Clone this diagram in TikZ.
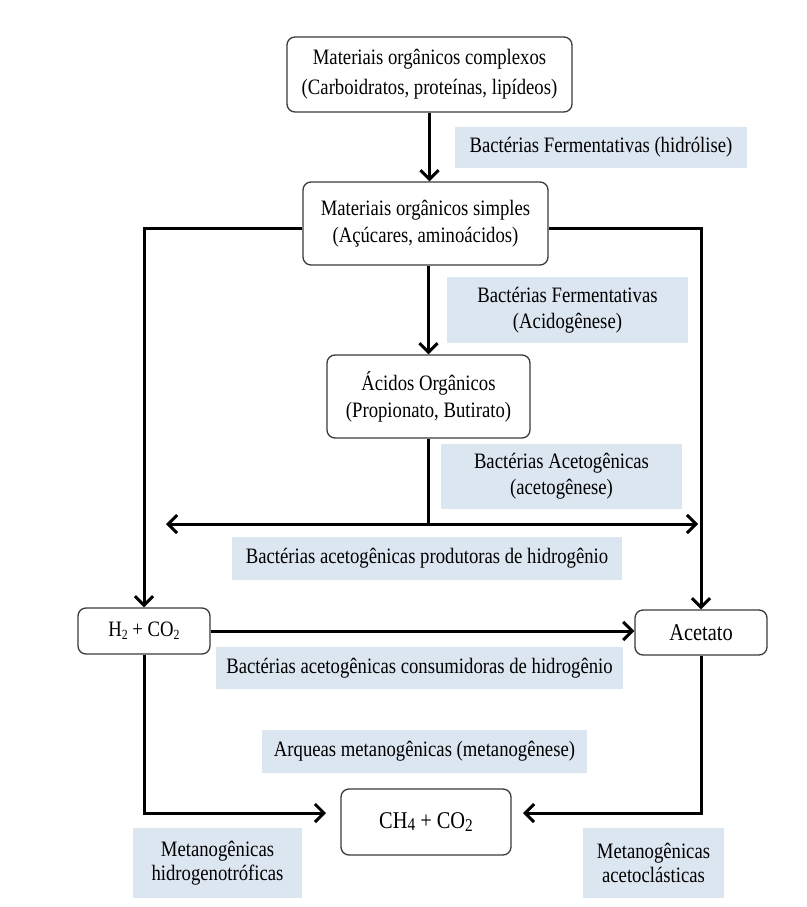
\documentclass[tikz,border=0pt]{standalone}
\usepackage{fontspec}
\setmainfont{Liberation Serif}[FakeStretch=0.85]
\usetikzlibrary{arrows.meta,calc}
\definecolor{labc}{HTML}{DCE6F1}
\definecolor{bord}{HTML}{3A3A3A}
\begin{document}
\begin{tikzpicture}[x=1pt,y=-1pt,
  box/.style={draw=bord,line width=1.3pt,rounded corners=8pt,fill=white,align=center,inner sep=0pt,font=\fontsize{22}{27}\selectfont},
  lab/.style={fill=labc,align=center,inner sep=0pt,font=\fontsize{22}{26}\selectfont},
  conn/.style={line width=3pt,-{Straight Barb[length=9pt,width=18pt]}},
  thinline/.style={line width=2.2pt}]
\useasboundingbox (0,0) rectangle (806,907);
% boxes
\node[box,minimum width=285pt,minimum height=75pt,font=\fontsize{22}{30}\selectfont] (b1) at (429.5,74.5) {Materiais orgânicos complexos\\(Carboidratos, proteínas, lipídeos)};
\node[box,minimum width=245pt,minimum height=83pt] (b2) at (425.5,223.5) {Materiais orgânicos simples\\(Açúcares, aminoácidos)};
\node[box,minimum width=203pt,minimum height=83pt] (b3) at (428.5,396.5) {Ácidos Orgânicos\\(Propionato, Butirato)};
\node[box,minimum width=132pt,minimum height=46pt] (h2) at (144,631) {H\raisebox{-3pt}{\fontsize{14}{14}\selectfont 2} + CO\raisebox{-3pt}{\fontsize{14}{14}\selectfont 2}};
\node[box,minimum width=132pt,minimum height=45pt,font=\fontsize{24}{27}\selectfont] (ac) at (701,632.5) {Acetato};
\node[box,minimum width=170pt,minimum height=66pt,font=\fontsize{24}{27}\selectfont] (ch4) at (426,822) {CH\raisebox{-2pt}{\fontsize{18}{18}\selectfont 4} + CO\raisebox{-3pt}{\fontsize{18}{18}\selectfont 2}};
% labels
\node[lab,minimum width=292pt,minimum height=41pt] (l1) at (601,147.5) {Bactérias Fermentativas (hidrólise)};
\node[lab,minimum width=241pt,minimum height=66pt] (l2) at (567.5,310) {Bactérias Fermentativas\\(Acidogênese)};
\node[lab,minimum width=241pt,minimum height=65pt] (l3) at (561.5,476.5) {Bactérias Acetogênicas\\(acetogênese)};
\node[lab,minimum width=390pt,minimum height=43pt] (l4) at (427,558.5) {Bactérias acetogênicas produtoras de hidrogênio};
\node[lab,minimum width=407pt,minimum height=42pt] (l5) at (419.5,668) {Bactérias acetogênicas consumidoras de hidrogênio};
\node[lab,minimum width=325pt,minimum height=43pt] (l6) at (424.5,751.5) {Arqueas metanogênicas (metanogênese)};
\node[lab,minimum width=169pt,minimum height=70pt,font=\fontsize{22}{24}\selectfont] (l7) at (217.5,863) {Metanogênicas\\hidrogenotróficas};
\node[lab,minimum width=141pt,minimum height=70pt,font=\fontsize{22}{24}\selectfont] (l8) at (653.5,863) {Metanogênicas\\acetoclásticas};
% connectors
\coordinate (yL) at (0,228);
\coordinate (dl) at (166,524);
\coordinate (dr) at (698,524);
\coordinate (cl) at (326,813);
\coordinate (cr) at (523,813);
\draw[conn] (b1.south) -- (b1.south |- b2.north);
\draw[conn] (b2.west |- yL) -| (h2.north);
\draw[conn] (b2.east |- yL) -| (ac.north);
\draw[conn] (b3.north |- b2.south) -- (b3.north);
\draw[thinline] (b3.south) -- (b3.south |- dl);
\draw[line width=3pt,{Straight Barb[length=9pt,width=18pt]}-{Straight Barb[length=9pt,width=18pt]}] (dl) -- (dr);
\draw[conn] (h2.east) -- (h2.east -| ac.west);
\draw[conn] (h2.south) |- (cl);
\draw[conn] (ac.south) |- (cr);
\end{tikzpicture}
\end{document}
